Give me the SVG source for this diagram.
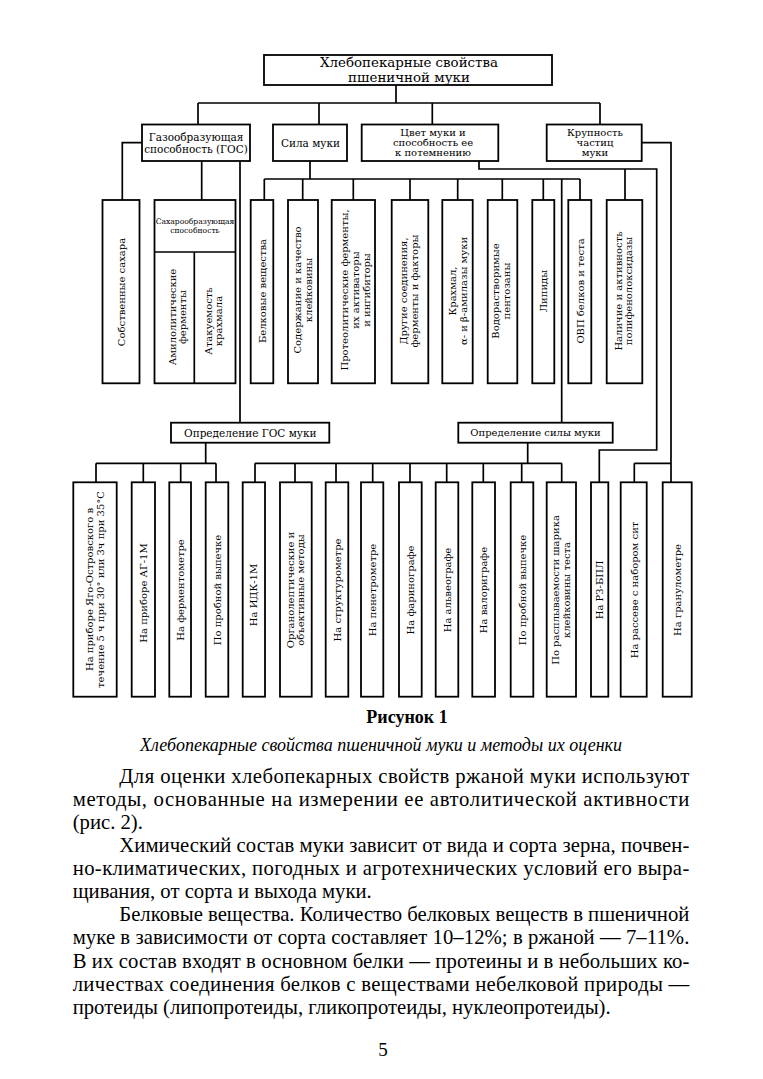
<svg xmlns="http://www.w3.org/2000/svg" width="763" height="1079" viewBox="0 0 763 1079">
<style>
.box{fill:#fff;stroke:#000;stroke-width:1.8}
.conn{fill:none;stroke:#000;stroke-width:1.7}
.lbl{font-family:"DejaVu Serif","Liberation Serif",serif;font-size:10px;text-anchor:middle;dominant-baseline:central;fill:#000}
.big{font-size:13.4px}
.mid{font-size:10.5px}
.tiny{font-size:7.6px}
.body{font-family:"Liberation Serif","Times New Roman",serif;font-size:20.7px;fill:#000}
.cap{font-family:"Liberation Serif","Times New Roman",serif;fill:#000}
</style>
<rect width="763" height="1079" fill="#fff"/>

<g id="connectors" class="conn">
  <path d="M396,85V103M198,103H600M198,103V124.5M319,103V124.5M432.3,103V124.5M600,103V124.5"/>
  <path d="M142,142.7H122.3V200M201.7,161V200M240,161V422.7"/>
  <path d="M310,161V179M264.3,179H580M264.3,179V200M302.7,179V200M353.3,179V200M410,179V200M457.7,179V200M502.3,179V200M543.3,179V200M580,179V200M561.7,179V422.7"/>
  <path d="M479,161V169H656.7V450H599.3V482.3M625,169V200"/>
  <path d="M641.7,142.7H671V482.3M634.3,463.3H671M634.3,463.3V482.3"/>
  <path d="M205.7,442.7V463.3M96,463.3H216M96,463.3V482.3M143.3,463.3V482.3M180.7,463.3V482.3M216,463.3V482.3"/>
  <path d="M527.7,442.7V463.3M255,463.3H561.7M255,463.3V482.3M295,463.3V482.3M336,463.3V482.3M372.7,463.3V482.3M410,463.3V482.3M446.7,463.3V482.3M483.3,463.3V482.3M521.7,463.3V482.3M561.7,463.3V482.3"/>
</g>

<g id="n-root"><rect class="box" x="264" y="55" width="288" height="30"/>
<text class="lbl big" x="409" y="62.8">Хлебопекарные свойства</text>
<text class="lbl big" x="409" y="77">пшеничной муки</text></g>

<g id="n-gos"><rect class="box" x="142" y="124.5" width="108" height="36.5"/>
<text class="lbl mid" x="196" y="137.3">Газообразующая</text>
<text class="lbl mid" x="196" y="148.7">способность (ГОС)</text></g>

<g id="n-sila"><rect class="box" x="273" y="124.5" width="74" height="36.5"/>
<text class="lbl mid" x="310.5" y="143">Сила муки</text></g>

<g id="n-tsvet"><rect class="box" x="361.7" y="124.5" width="136.6" height="36.5"/>
<text class="lbl" x="433" y="132.5">Цвет муки и</text>
<text class="lbl" x="433" y="142.7">способность ее</text>
<text class="lbl" x="433" y="152.9">к потемнению</text></g>

<g id="n-krup"><rect class="box" x="546.7" y="124.5" width="95" height="36.5"/>
<text class="lbl" x="595" y="132.5">Крупность</text>
<text class="lbl" x="595" y="142.7">частиц</text>
<text class="lbl" x="595" y="152.9">муки</text></g>

<g id="n-sahara"><rect class="box" x="102.5" y="200" width="37" height="183.3"/>
<text class="lbl" transform="translate(121,292) rotate(-90)">Собственные сахара</text></g>

<g id="n-saharoobr"><rect class="box" x="154.5" y="200" width="81" height="183.3"/>
<path class="conn" d="M154.5,252H235.5M194.3,252V383.3"/>
<text class="lbl tiny" x="195" y="221.8">Сахарообразующая</text>
<text class="lbl tiny" x="195" y="230">способность</text>
<text class="lbl" transform="translate(176.4,317) rotate(-90)"><tspan x="0" y="-4.8">Амилолитические</tspan><tspan x="0" y="5.2">ферменты</tspan></text>
<text class="lbl" transform="translate(213.3,321) rotate(-90)"><tspan x="0" y="-5">Атакуемость</tspan><tspan x="0" y="5">крахмала</tspan></text></g>

<g id="n-belk"><rect class="box" x="250.7" y="200" width="22.6" height="183.3"/>
<text class="lbl" transform="translate(262.3,291) rotate(-90)">Белковые вещества</text></g>

<g id="n-soderzh"><rect class="box" x="288" y="200" width="30" height="183.3"/>
<text class="lbl" transform="translate(302.6,290) rotate(-90)"><tspan x="0" y="-5.6">Содержание и качество</tspan><tspan x="0" y="5.6">клейковины</tspan></text></g>

<g id="n-proteo"><rect class="box" x="331.7" y="200" width="43.3" height="183.3"/>
<text class="lbl" transform="translate(355,290) rotate(-90)"><tspan x="0" y="-11.4">Протеолитические ферменты,</tspan><tspan x="0" y="0">их активаторы</tspan><tspan x="0" y="11">и ингибиторы</tspan></text></g>

<g id="n-drugie"><rect class="box" x="391.7" y="200" width="36.6" height="183.3"/>
<text class="lbl" transform="translate(408.5,291) rotate(-90)"><tspan x="0" y="-5.2">Другие соединения,</tspan><tspan x="0" y="5.2">ферменты и факторы</tspan></text></g>

<g id="n-krakh"><rect class="box" x="442.3" y="200" width="30.4" height="183.3"/>
<text class="lbl" transform="translate(457.2,291) rotate(-90)"><tspan x="0" y="-5.5">Крахмал,</tspan><tspan x="0" y="5.5">α- и β-амилазы муки</tspan></text></g>

<g id="n-vodor"><rect class="box" x="487.7" y="200" width="29.6" height="183.3"/>
<text class="lbl" transform="translate(500.5,291) rotate(-90)"><tspan x="0" y="-5.5">Водорастворимые</tspan><tspan x="0" y="5.5">пентозаны</tspan></text></g>

<g id="n-lipid"><rect class="box" x="532.3" y="200" width="22" height="183.3"/>
<text class="lbl" transform="translate(543.3,291) rotate(-90)">Липиды</text></g>

<g id="n-ovp"><rect class="box" x="568.3" y="200" width="23" height="183.3"/>
<text class="lbl" transform="translate(580,291) rotate(-90)">ОВП белков и теста</text></g>

<g id="n-nalich"><rect class="box" x="606.7" y="200" width="35.6" height="183.3"/>
<text class="lbl" transform="translate(623.3,291) rotate(-90)"><tspan x="0" y="-5">Наличие и активность</tspan><tspan x="0" y="5">полифенолоксидазы</tspan></text></g>

<g id="n-opgos"><rect class="box" x="171" y="422.7" width="158.3" height="20"/>
<text class="lbl mid" x="250.3" y="432.7">Определение ГОС муки</text></g>

<g id="n-opsil"><rect class="box" x="458.3" y="422.7" width="154.4" height="20"/>
<text class="lbl" x="535.5" y="432.7">Определение силы муки</text></g>

<g id="m-yago"><rect class="box" x="73.3" y="482.3" width="43.4" height="214.4"/>
<text class="lbl" transform="translate(94.7,589.5) rotate(-90)"><tspan x="0" y="-5.4">На приборе Яго-Островского в</tspan><tspan x="0" y="5.4">течение 5 ч при 30° или 3ч при 35°С</tspan></text></g>
<g id="m-ag"><rect class="box" x="131.7" y="482.3" width="23.3" height="214.4"/>
<text class="lbl" transform="translate(143.3,593) rotate(-90)">На приборе АГ-1М</text></g>
<g id="m-ferm"><rect class="box" x="169.3" y="482.3" width="21.7" height="214.4"/>
<text class="lbl" transform="translate(180.2,590) rotate(-90)">На ферментометре</text></g>
<g id="m-vyp1"><rect class="box" x="205.7" y="482.3" width="22.6" height="214.4"/>
<text class="lbl" transform="translate(217,590) rotate(-90)">По пробной выпечке</text></g>
<g id="m-idk"><rect class="box" x="242.7" y="482.3" width="22.3" height="214.4"/>
<text class="lbl" transform="translate(253.8,595) rotate(-90)">На ИДК-1М</text></g>
<g id="m-organ"><rect class="box" x="280" y="482.3" width="31.7" height="214.4"/>
<text class="lbl" transform="translate(294.5,590) rotate(-90)"><tspan x="0" y="-5">Органолептические и</tspan><tspan x="0" y="5">объективные методы</tspan></text></g>
<g id="m-struct"><rect class="box" x="325.7" y="482.3" width="22.6" height="214.4"/>
<text class="lbl" transform="translate(337,590) rotate(-90)">На структурометре</text></g>
<g id="m-penet"><rect class="box" x="361" y="482.3" width="22.3" height="214.4"/>
<text class="lbl" transform="translate(372.2,590) rotate(-90)">На пенетрометре</text></g>
<g id="m-farin"><rect class="box" x="399" y="482.3" width="22.7" height="214.4"/>
<text class="lbl" transform="translate(410.3,590) rotate(-90)">На фаринографе</text></g>
<g id="m-alveo"><rect class="box" x="435.7" y="482.3" width="22.6" height="214.4"/>
<text class="lbl" transform="translate(447,590) rotate(-90)">На альвеографе</text></g>
<g id="m-valor"><rect class="box" x="472.3" y="482.3" width="22.7" height="214.4"/>
<text class="lbl" transform="translate(483.7,590) rotate(-90)">На валориграфе</text></g>
<g id="m-vyp2"><rect class="box" x="510.7" y="482.3" width="22.6" height="214.4"/>
<text class="lbl" transform="translate(522,590) rotate(-90)">По пробной выпечке</text></g>
<g id="m-raspl"><rect class="box" x="546.7" y="482.3" width="29.3" height="214.4"/>
<text class="lbl" transform="translate(560.5,590) rotate(-90)"><tspan x="0" y="-5.5">По расплываемости шарика</tspan><tspan x="0" y="5.5">клейковины теста</tspan></text></g>
<g id="m-rz"><rect class="box" x="591" y="482.3" width="17.3" height="214.4"/>
<text class="lbl" transform="translate(599.7,590) rotate(-90)">На РЗ-БПЛ</text></g>
<g id="m-rassev"><rect class="box" x="620.7" y="482.3" width="26" height="214.4"/>
<text class="lbl" transform="translate(634,590) rotate(-90)">На рассеве с набором сит</text></g>
<g id="m-granul"><rect class="box" x="662.7" y="482.3" width="29" height="214.4"/>
<text class="lbl" transform="translate(677.2,590) rotate(-90)">На гранулометре</text></g>

<g id="caption">
<text class="cap" x="407" y="722.5" font-size="18" font-weight="bold" text-anchor="middle">Рисунок 1</text>
<text class="cap" x="140" y="750.5" font-size="18" font-style="italic" textLength="482" lengthAdjust="spacingAndGlyphs">Хлебопекарные свойства пшеничной муки и методы их оценки</text>
</g>

<g id="bodytext" class="body">
<text x="119.3" y="782.5" textLength="570" lengthAdjust="spacing">Для оценки хлебопекарных свойств ржаной муки используют</text>
<text x="72.7" y="805.5" textLength="616.6" lengthAdjust="spacing">методы, основанные на измерении ее автолитической активности</text>
<text x="72.7" y="828.5">(рис. 2).</text>
<text x="119.3" y="851.8" textLength="570" lengthAdjust="spacing">Химический состав муки зависит от вида и сорта зерна, почвен-</text>
<text x="72.7" y="874.5" textLength="616.6" lengthAdjust="spacing">но-климатических, погодных и агротехнических условий его выра-</text>
<text x="72.7" y="897.5">щивания, от сорта и выхода муки.</text>
<text x="119.3" y="921" textLength="570" lengthAdjust="spacing">Белковые вещества. Количество белковых веществ в пшеничной</text>
<text x="72.7" y="944.3" textLength="616.6" lengthAdjust="spacing">муке в зависимости от сорта составляет 10–12%; в ржаной — 7–11%.</text>
<text x="72.7" y="967.7" textLength="616.6" lengthAdjust="spacing">В их состав входят в основном белки — протеины и в небольших ко-</text>
<text x="72.7" y="991" textLength="616.6" lengthAdjust="spacing">личествах соединения белков с веществами небелковой природы —</text>
<text x="72.7" y="1014.3">протеиды (липопротеиды, гликопротеиды, нуклеопротеиды).</text>
<text x="383" y="1056" font-size="19" text-anchor="middle">5</text>
</g>
</svg>
